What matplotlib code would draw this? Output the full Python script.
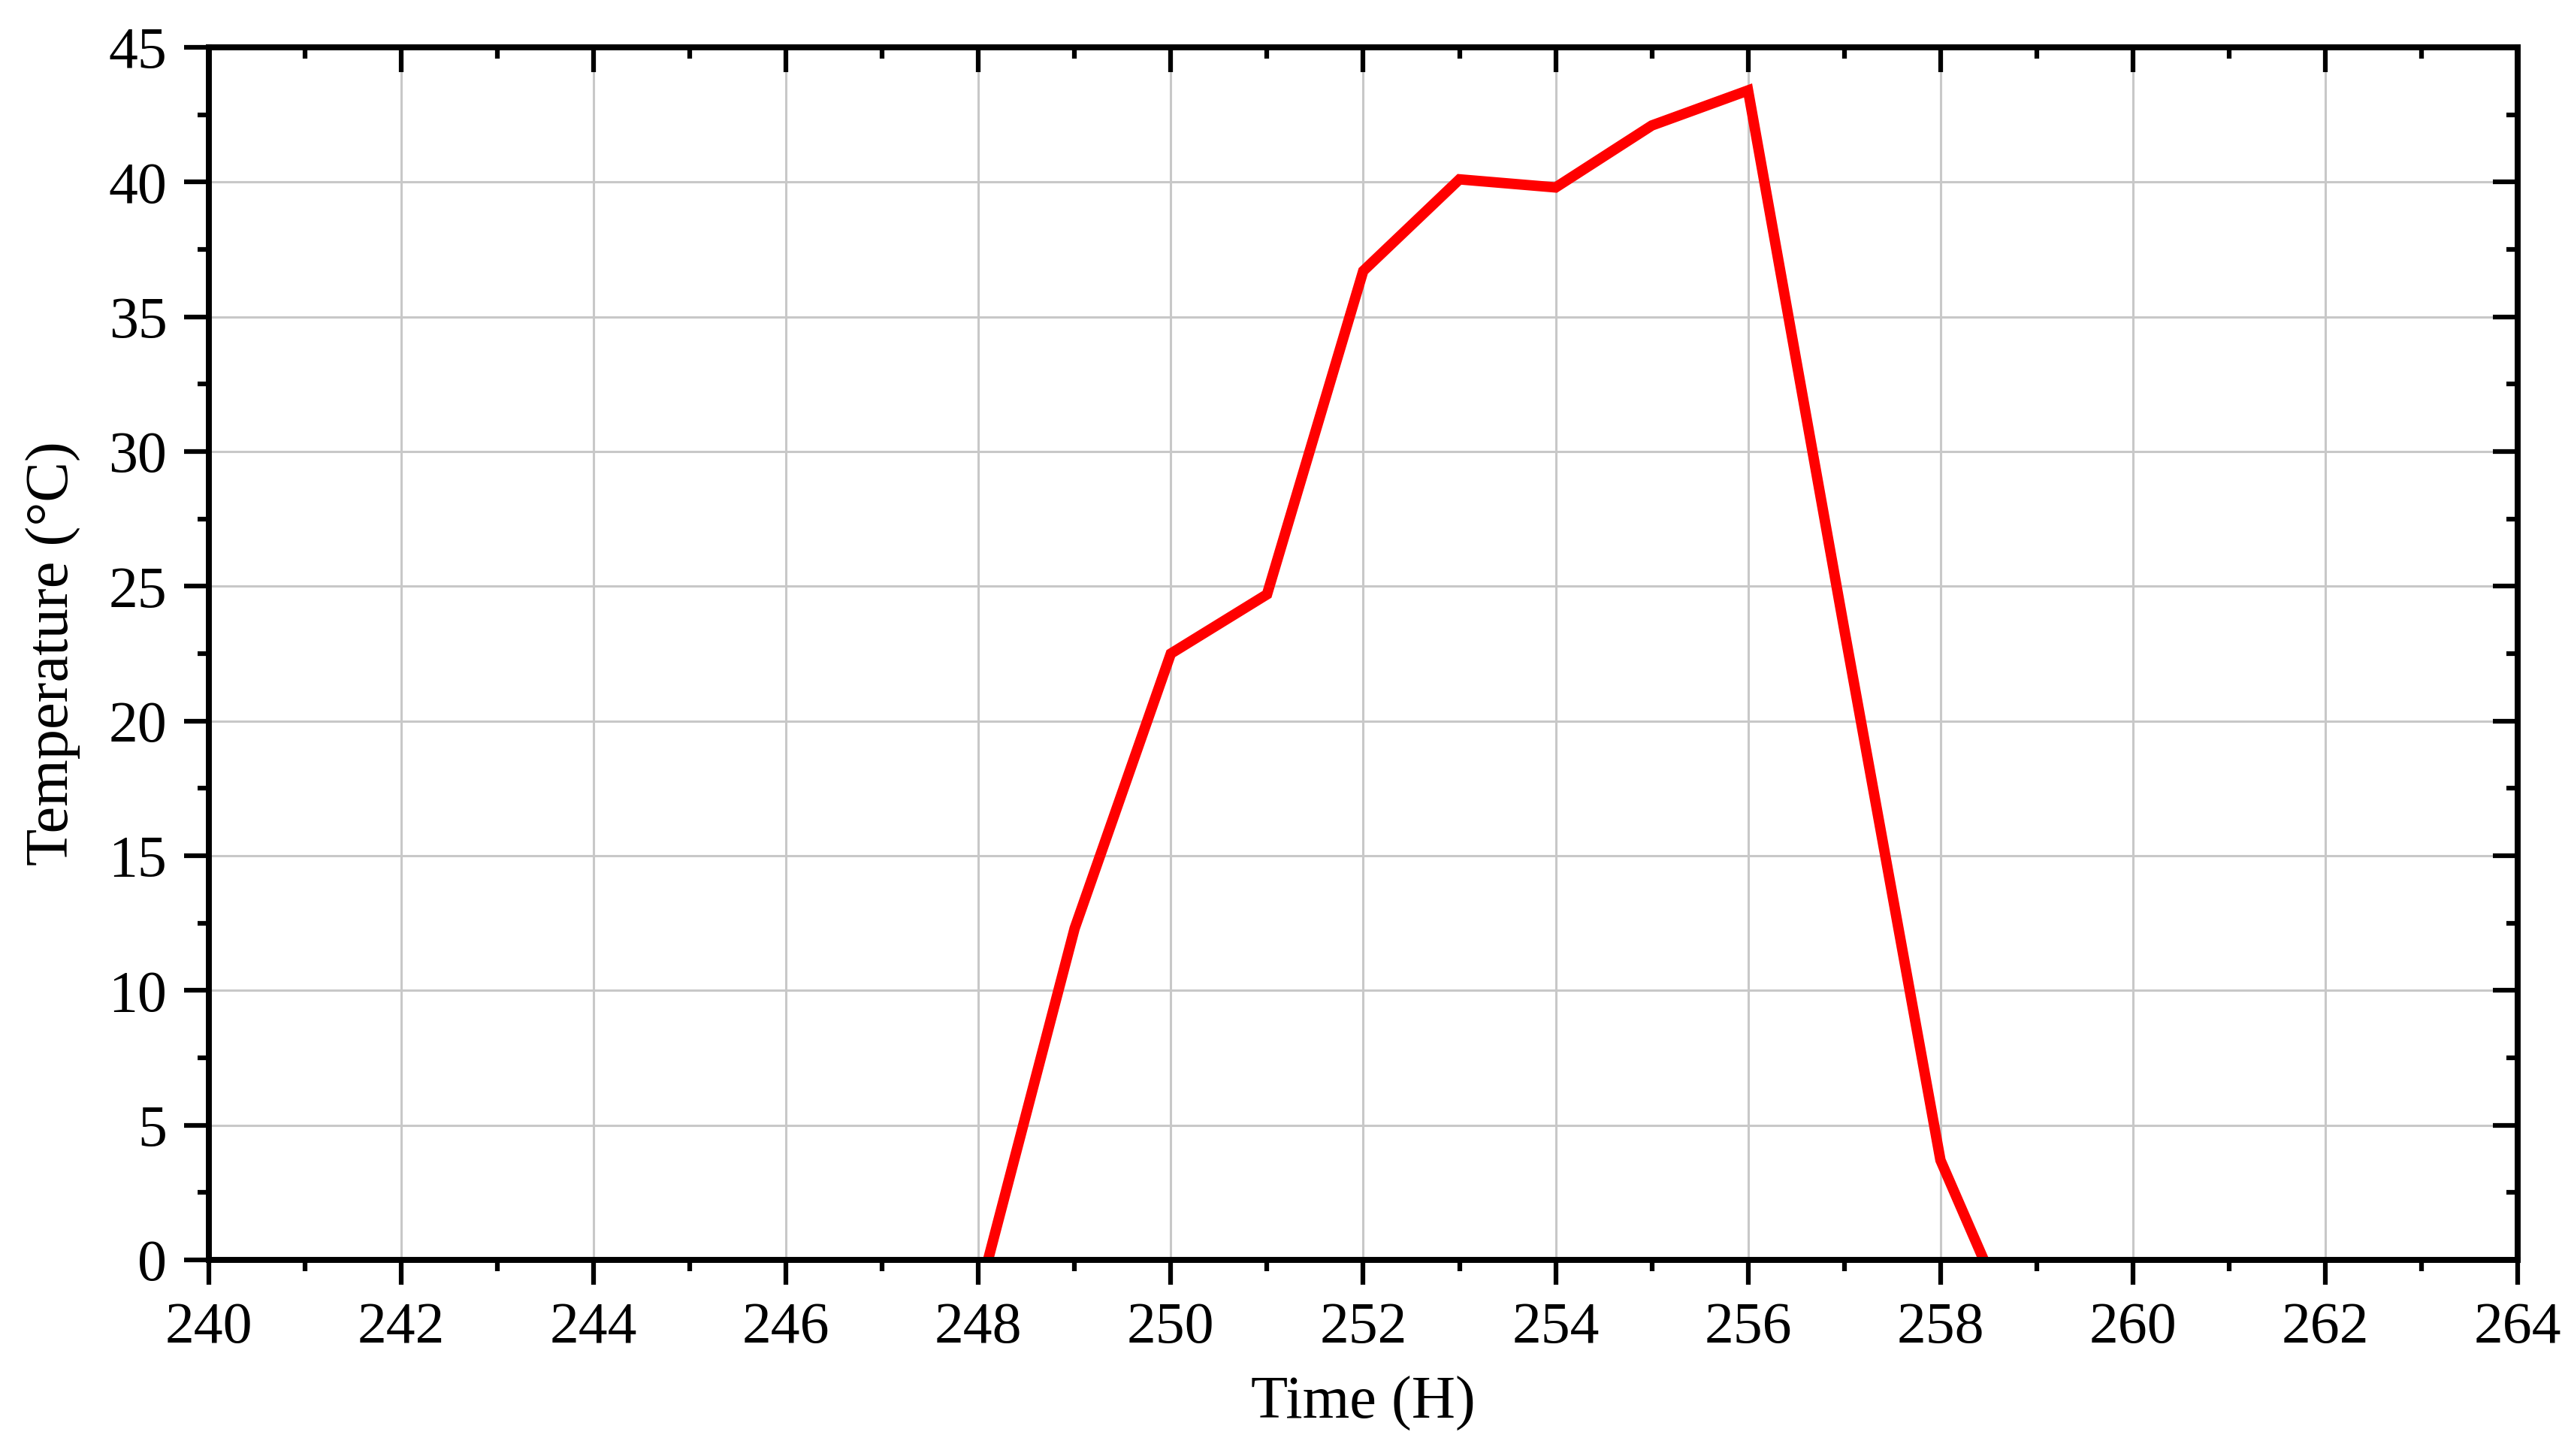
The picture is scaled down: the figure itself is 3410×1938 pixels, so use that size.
import matplotlib
matplotlib.use("Agg")
import matplotlib.pyplot as plt
from matplotlib.ticker import MultipleLocator

time_h = [248.1, 249, 250, 251, 252, 253, 254, 255, 256, 257, 258, 258.45]
temperature = [0.0, 12.3, 22.5, 24.7, 36.7, 40.1, 39.8, 42.1, 43.4, 23.4, 3.7, 0.0]
x_ticks = [240, 242, 244, 246, 248, 250, 252, 254, 256, 258, 260, 262, 264]
y_ticks = [0, 5, 10, 15, 20, 25, 30, 35, 40, 45]

plt.rcParams['font.family'] = ['Liberation Serif', 'DejaVu Serif']

fig = plt.figure(figsize=(34.10, 19.38), dpi=100)
pos = [0.0815, 0.1347, 0.9012, 0.8328]
ax = fig.add_axes(pos)

ax.plot(time_h, temperature, color='#ff0000', linewidth=10, solid_joinstyle='miter', zorder=3, clip_on=True)

ax.set_xlim(240, 264)
ax.set_ylim(0, 45)
ax.set_xticks(x_ticks)
ax.set_yticks(y_ticks)
ax.xaxis.set_minor_locator(MultipleLocator(1))
ax.yaxis.set_minor_locator(MultipleLocator(2.5))

ax.grid(True, which='major', color='#c8c8c8', linewidth=2.2, zorder=0)
ax.set_axisbelow(True)

for s in ax.spines.values():
    s.set_linewidth(5.5)
    s.set_zorder(4)

ax.tick_params(axis='both', which='major', direction='out', length=24, width=4.5, labelsize=56, pad=16)
ax.tick_params(axis='both', which='minor', direction='out', length=11, width=4.5)

# overlay axes for inward top/right ticks
ax2 = fig.add_axes(pos, facecolor='none')
ax2.set_xlim(240, 264)
ax2.set_ylim(0, 45)
ax2.set_xticks(x_ticks)
ax2.set_yticks(y_ticks)
ax2.xaxis.set_minor_locator(MultipleLocator(1))
ax2.yaxis.set_minor_locator(MultipleLocator(2.5))
ax2.tick_params(which='both', direction='in', width=4.5,
                bottom=False, left=False, top=True, right=True,
                labelbottom=False, labelleft=False, labeltop=False, labelright=False)
ax2.tick_params(which='major', length=24)
ax2.tick_params(which='minor', length=11)
for s in ax2.spines.values():
    s.set_linewidth(5.5)

ax.set_xlabel('Time (H)', fontsize=58, labelpad=20)
ax.set_ylabel('Temperature (°C)', fontsize=58, labelpad=26)

fig.savefig('out.png', dpi=100)
